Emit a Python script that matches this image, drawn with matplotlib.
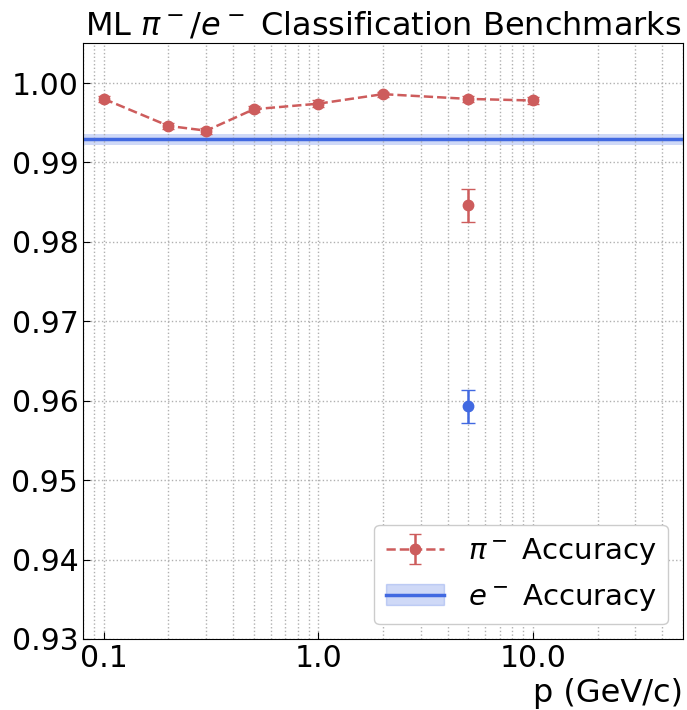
import numpy as np
import matplotlib
matplotlib.use("Agg")
import matplotlib.pyplot as plt
from matplotlib.ticker import FixedLocator, FuncFormatter, LogLocator, NullFormatter
from matplotlib.patches import Patch
from matplotlib.lines import Line2D

# momentum scan, pi- accuracy
p_vals = [0.1, 0.2, 0.3, 0.5, 1.0, 2.0, 5.0, 10.0]
pi_acc = [0.9980, 0.9946, 0.9940, 0.9967, 0.9974, 0.9986, 0.9980, 0.9978]
pi_err = [0.0004, 0.0004, 0.0004, 0.0004, 0.0004, 0.0003, 0.0004, 0.0004]

# single extra points at 5 GeV/c
p_extra = [5.0]
pi_extra = [0.9846]
pi_extra_err = [0.0021]
e_extra = [0.9593]
e_extra_err = [0.0021]

# e- accuracy band
e_acc = 0.9929
e_band = 0.00067

red = "#CD5C5C"
blue = "#4169E1"

fig, ax = plt.subplots(figsize=(6.87, 7.10), dpi=100)

ax.errorbar(p_vals, pi_acc, yerr=pi_err, fmt="o--", color=red, lw=1.8,
            ms=7.5, capsize=4, elinewidth=1.8, label=r"$\pi^-$ Accuracy")
ax.errorbar(p_extra, pi_extra, yerr=pi_extra_err, fmt="o", color=red,
            ms=7.5, capsize=5, elinewidth=1.8)
ax.errorbar(p_extra, e_extra, yerr=e_extra_err, fmt="o", color=blue,
            ms=7.5, capsize=5, elinewidth=1.8)

ax.axhline(e_acc, color=blue, lw=2.5)
ax.axhspan(e_acc - e_band, e_acc + e_band, color=blue, alpha=0.25, lw=0)
# legend proxy: line over band
e_handle = (Patch(facecolor=blue, alpha=0.25, edgecolor=blue), Line2D([], [], color=blue, lw=2.5))

ax.set_xscale("log")
ax.set_xlim(0.08, 50)
ax.set_ylim(0.93, 1.005)
ax.xaxis.set_major_locator(FixedLocator([0.1, 1.0, 10.0]))
ax.xaxis.set_major_formatter(FuncFormatter(lambda v, pos: f"{v:.1f}"))
ax.xaxis.set_minor_locator(LogLocator(base=10, subs=np.arange(2, 10)))
ax.xaxis.set_minor_formatter(NullFormatter())
ax.set_yticks([0.93, 0.94, 0.95, 0.96, 0.97, 0.98, 0.99, 1.00])
ax.yaxis.set_major_formatter(FuncFormatter(lambda v, pos: f"{v:.2f}"))

ax.tick_params(axis="both", which="major", direction="in", labelsize=21.5, length=5)
ax.tick_params(axis="x", which="minor", length=0)
ax.grid(True, which="major", ls=":", color="#b0b0b0", lw=1)
ax.grid(True, which="minor", axis="x", ls=":", color="#b0b0b0", lw=1)

ax.set_title(r"ML $\pi^-/e^-$ Classification Benchmarks", fontsize=23)
ax.set_xlabel("p (GeV/c)", fontsize=23, loc="right")

h, l = ax.get_legend_handles_labels()
ax.legend([h[0], e_handle], [l[0], r"$e^-$ Accuracy"], loc="lower right",
          fontsize=21, framealpha=1, edgecolor="#cccccc")

fig.subplots_adjust(left=0.121, right=0.994, top=0.939, bottom=0.1)
fig.savefig("out.png", dpi=100)
